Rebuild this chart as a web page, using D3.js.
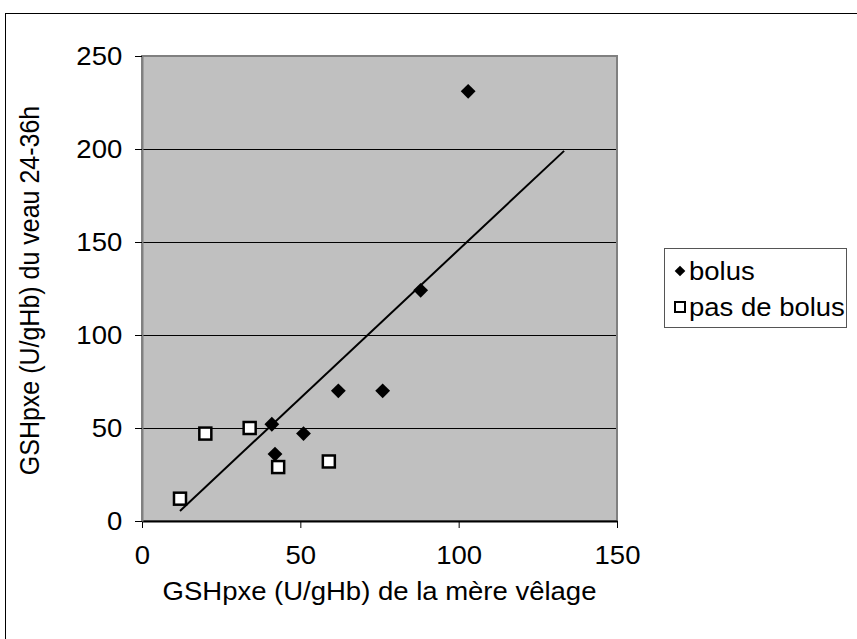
<!DOCTYPE html>
<html><head><meta charset="utf-8">
<script src="https://cdn.jsdelivr.net/npm/d3@7"></script>
<style>body{margin:0;background:#fff;}svg{display:block;font-family:"Liberation Sans",Arial,sans-serif;}</style>
</head><body>
<svg id="c" width="857" height="639"></svg>
<script>
const bolusX = [103, 88, 76, 62, 51, 41, 42];
const bolusY = [231, 124, 70, 70, 47, 52, 36];
const pasX = [12, 20, 34, 43, 59];
const pasY = [12, 47, 50, 29, 32];
const trendX = [12, 133.3];
const trendY = [5.4, 199];
const xTicks = [0, 50, 100, 150];
const yTicks = [0, 50, 100, 150, 200, 250];
const seriesNames = ["bolus", "pas de bolus"];
const xTitle = "GSHpxe (U/gHb) de la mère vêlage";
const yTitle = "GSHpxe (U/gHb) du veau 24-36h";

const svg = d3.select("#c");
const L = 142, R = 617, T = 56, B = 521;
const x = d3.scaleLinear().domain([0, 150]).range([L, R]);
const y = d3.scaleLinear().domain([0, 250]).range([B, T]);
const fs = 25, sx = 1.1;
const ff = "Liberation Sans, Arial, sans-serif";

// outer frame
svg.append("rect").attr("x", 5.5).attr("y", 13.5).attr("width", 870).attr("height", 640)
  .attr("fill", "#fff").attr("stroke", "#000").attr("stroke-width", 1);

// plot area
svg.append("rect").attr("x", L).attr("y", T).attr("width", R - L).attr("height", B - T)
  .attr("fill", "#c0c0c0");
svg.append("g").selectAll("line").data(yTicks.filter(d => d > 0 && d < 250)).join("line")
  .attr("x1", L).attr("x2", R).attr("y1", d => Math.round(y(d)) + 0.5).attr("y2", d => Math.round(y(d)) + 0.5)
  .attr("stroke", "#000").attr("stroke-width", 1);
svg.append("rect").attr("x", L).attr("y", T).attr("width", R - L).attr("height", B - T)
  .attr("fill", "none").attr("stroke", "#808080").attr("stroke-width", 2);

// axes
const xAxis = d3.axisBottom(x).tickValues(xTicks).tickSizeInner(7).tickSizeOuter(0).tickPadding(18);
const gx = svg.append("g").attr("transform", `translate(0,${B})`).call(xAxis);
gx.select(".domain").attr("stroke", "#000").attr("stroke-width", 2);
gx.selectAll(".tick line").attr("stroke", "#000");
gx.selectAll("text").attr("font-size", fs).attr("font-family", ff).attr("fill", "#000")
  .attr("transform", `scale(${sx},1)`);

const yAxis = d3.axisLeft(y).tickValues(yTicks).tickSizeInner(7).tickSizeOuter(0).tickPadding(11);
const gy = svg.append("g").attr("transform", `translate(${L},0)`).call(yAxis);
gy.select(".domain").attr("stroke", "#808080").attr("stroke-width", 2);
gy.selectAll(".tick line").attr("stroke", "#000");
gy.selectAll("text").attr("font-size", fs).attr("font-family", ff).attr("fill", "#000")
  .attr("transform", `scale(${sx},1)`);

// trend line
svg.append("path").datum(trendX.map((d, i) => [d, trendY[i]]))
  .attr("d", d3.line().x(d => x(d[0])).y(d => y(d[1])))
  .attr("stroke", "#000").attr("stroke-width", 2).attr("fill", "none");

// markers
const diamond = d3.symbol().type(d3.symbolDiamond2).size(140);
svg.append("g").selectAll("path").data(bolusX.map((d, i) => [d, bolusY[i]])).join("path")
  .attr("transform", d => `translate(${x(d[0])},${y(d[1])})`)
  .attr("d", diamond).attr("fill", "#000");
svg.append("g").selectAll("rect").data(pasX.map((d, i) => [d, pasY[i]])).join("rect")
  .attr("x", d => x(d[0]) - 6).attr("y", d => y(d[1]) - 6).attr("width", 12).attr("height", 12)
  .attr("fill", "#fff").attr("stroke", "#000").attr("stroke-width", 2.5);

// axis titles
svg.append("text").attr("transform", `translate(${(L + R) / 2},600) scale(${sx},1)`).attr("text-anchor", "middle")
  .attr("font-size", fs).text(xTitle);
svg.append("text").attr("transform", `translate(39,${(T + B) / 2 + 2}) rotate(-90) scale(1,${sx})`).attr("text-anchor", "middle")
  .attr("font-size", fs).text(yTitle);

// legend
const lg = svg.append("g");
lg.append("rect").attr("x", 664.5).attr("y", 248.5).attr("width", 182).attr("height", 79)
  .attr("fill", "#fff").attr("stroke", "#555").attr("stroke-width", 1);
const rows = [271, 307];
lg.append("path").attr("transform", `translate(680,${rows[0]})`)
  .attr("d", d3.symbol().type(d3.symbolDiamond2).size(72)).attr("fill", "#000");
lg.append("rect").attr("x", 675).attr("y", rows[1] - 5).attr("width", 10).attr("height", 10)
  .attr("fill", "#fff").attr("stroke", "#000").attr("stroke-width", 2);
lg.selectAll("text").data(seriesNames).join("text")
  .attr("transform", (d, i) => `translate(689,${rows[i] + 9}) scale(${sx},1)`)
  .attr("font-size", fs).text(d => d);
</script>
</body></html>
